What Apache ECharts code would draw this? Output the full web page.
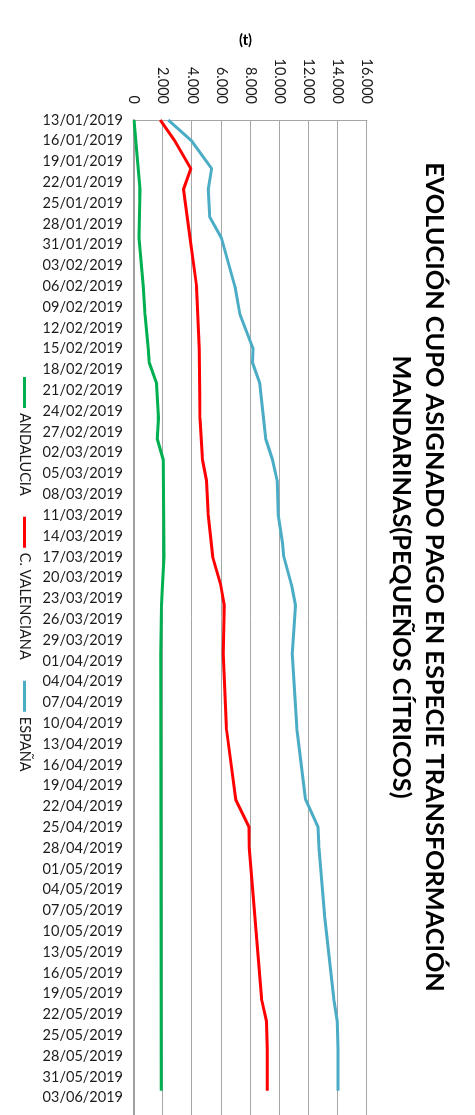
<!DOCTYPE html>
<html>
<head>
<meta charset="utf-8">
<script src="https://cdn.jsdelivr.net/npm/echarts@6/dist/echarts.min.js"></script>
<style>
  html, body { margin: 0; padding: 0; background: #fff; overflow: hidden; width: 475px; height: 1115px; }
  #chart {
    position: absolute; left: 0; top: 0;
    width: 1115px; height: 475px;
    transform-origin: 0 0;
    transform: translate(475px, 0) rotate(90deg);
  }
</style>
</head>
<body>
<div id="chart"></div>
<script>
// ---- data ----
const titleLines = ['EVOLUCIÓN CUPO ASIGNADO PAGO EN ESPECIE TRANSFORMACIÓN', 'MANDARINAS(PEQUEÑOS CÍTRICOS)'];
const valueAxisName = '(t)';
const seriesNames = ['ANDALUCIA', 'C. VALENCIANA', 'ESPAÑA'];
const startDate = '13/01/2019';   // first tick label
const dates = ['13/01/2019','16/01/2019','20/01/2019','23/01/2019','27/01/2019','30/01/2019',
  '06/02/2019','10/02/2019','15/02/2019','17/02/2019','20/02/2019','25/02/2019','28/02/2019',
  '03/03/2019','06/03/2019','11/03/2019','15/03/2019','17/03/2019','21/03/2019','24/03/2019','31/03/2019',
  '11/04/2019','21/04/2019','25/04/2019','28/04/2019','08/05/2019','20/05/2019','23/05/2019','27/05/2019','02/06/2019'];
const andalucia = [0, null, null, 410, null, 340, 640, 760, 980, 1050, 1550, 1680, 1600,
  2010, null, null, null, 2060, 1950, 1880, 1830,
  null, null, null, null, null, null, null, null, 1870];
const cValenciana = [1800, 2800, 3900, 3400, null, 3840, 4300, null, 4480, null, null, 4530, null,
  4710, 4980, 5100, null, 5400, 5950, 6200, 6130,
  6360, 6980, 7900, 7910, null, 8780, 9100, 9150, 9150];
const espana = [2350, 3950, 5330, 5100, 5200, 6000, 6930, 7270, 8180, 8140, 8640, null, 9050,
  9510, 9830, 9900, 10200, 10290, 10810, 11090, 10860,
  11200, 11780, 12640, 12710, 13100, 13740, 13950, 14010, 14010];
const colors = ['#00B050', '#FF0000', '#4BACC6'];

// ---- helpers ----
const DAY = 86400000;
function parseD(s) { const p = s.split('/'); return Date.UTC(+p[2], +p[1] - 1, +p[0]); }
const T0 = parseD(startDate);
function dayIndex(s) { return Math.round((parseD(s) - T0) / DAY); }
function fmtDate(i) {
  const d = new Date(T0 + Math.round(i) * DAY);
  const pad = n => (n < 10 ? '0' : '') + n;
  return pad(d.getUTCDate()) + '/' + pad(d.getUTCMonth() + 1) + '/' + d.getUTCFullYear();
}
function fmtNum(v) { return String(v).replace(/\B(?=(\d{3})+(?!\d))/g, '.'); }
function build(vals) { return dates.map((d, i) => [dayIndex(d), vals[i]]); }

const FONT = 'Lato';
const chart = echarts.init(document.getElementById('chart'), null, { renderer: 'canvas' });
chart.setOption({
  animation: false,
  backgroundColor: '#ffffff',
  color: colors,
  textStyle: { fontFamily: FONT },
  title: {
    text: titleLines.join('\n'),
    left: 572, top: 19, textAlign: 'center',
    textStyle: { fontFamily: FONT, fontWeight: 'bold', fontSize: 25.3, lineHeight: 33, color: '#000' }
  },
  legend: {
    data: seriesNames,
    left: 377, top: 443, padding: 0,
    icon: 'rect', itemWidth: 31, itemHeight: 3, itemGap: 21,
    textStyle: { fontFamily: FONT, fontSize: 14.5, color: '#1a1a1a' }
  },
  grid: { left: 120, right: 0, top: 108, bottom: 134, containLabel: false },
  xAxis: {
    type: 'value', min: 0, max: 143.5, interval: 3,
    axisLine: { show: true, lineStyle: { color: '#A0A0A0', width: 2 } },
    axisTick: { show: false },
    splitLine: { show: false },
    axisLabel: {
      rotate: 90, margin: 11, showMaxLabel: false, padding: [6, 0, 0, 0],
      fontFamily: FONT, fontSize: 14.5, color: '#1a1a1a',
      formatter: v => fmtDate(v)
    }
  },
  yAxis: {
    type: 'value', min: 0, max: 16000, interval: 2000,
    name: valueAxisName, nameLocation: 'middle', nameRotate: 90, nameGap: 56,
    nameTextStyle: { fontFamily: FONT, fontWeight: 'bold', fontSize: 14.5, color: '#000', padding: [0, 10, 0, 0] },
    axisLine: { show: true, lineStyle: { color: '#A6A6A6', width: 1 } },
    axisTick: { show: false },
    splitLine: { show: true, lineStyle: { color: '#A6A6A6', width: 1 } },
    axisLabel: { margin: 16, fontFamily: FONT, fontSize: 14.5, color: '#1a1a1a', formatter: v => fmtNum(v) }
  },
  series: [andalucia, cValenciana, espana].map((vals, k) => ({
    name: seriesNames[k], type: 'line', data: build(vals),
    connectNulls: true, showSymbol: false, symbol: 'none',
    lineStyle: { width: 3, color: colors[k], join: 'round' },
    itemStyle: { color: colors[k] }
  }))
});
</script>
</body>
</html>
